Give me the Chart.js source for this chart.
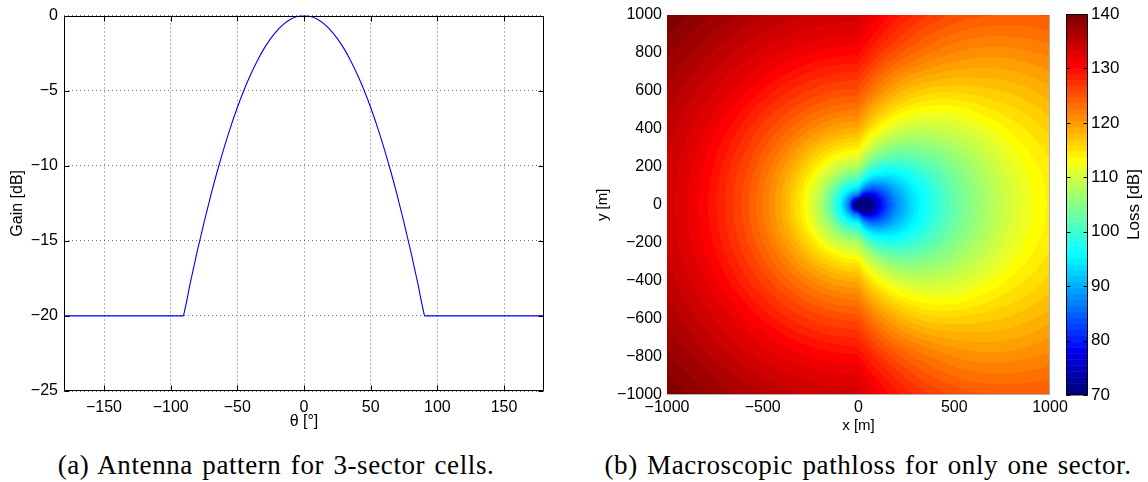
<!DOCTYPE html>
<html>
<head>
<meta charset="utf-8">
<script src="https://cdn.jsdelivr.net/npm/chart.js@4.4.0/dist/chart.umd.min.js"></script>
<style>
  html, body { margin: 0; padding: 0; background: #fff; }
  #page { position: relative; width: 1148px; height: 482px; overflow: hidden; }
  canvas { position: absolute; top: 0; }
  #patternChart { left: 0; }
  #lossChart { left: 580px; }
  #colorbar { left: 1040px; }
  .caption {
    position: absolute; top: 452px; line-height: 26px;
    font-family: 'Liberation Serif', 'Times New Roman', serif; font-size: 27px;
    letter-spacing: 0.6px; word-spacing: 2px;
    white-space: nowrap; transform: translateX(-50%); color: #000;
  }
</style>
</head>
<body>
<div id="page">
  <canvas id="patternChart" width="560" height="440"></canvas>
  <canvas id="lossChart" width="495" height="440"></canvas>
  <canvas id="colorbar" width="108" height="440"></canvas>
  <div class="caption" style="left:276px">(a) Antenna pattern for 3-sector cells.</div>
  <div class="caption" style="left:868px">(b) Macroscopic pathloss for only one sector.</div>
</div>
<script>
// antenna gain vs. azimuth (3-sector pattern)
const thetaDeg = [-180, -90.5, -90, -85, -80, -75, -70, -65, -60, -55, -50, -45, -40, -35, -30, -25, -20, -15, -10, -5,
  0, 5, 10, 15, 20, 25, 30, 35, 40, 45, 50, 55, 60, 65, 70, 75, 80, 85, 90, 90.5, 180];
const gainDb = [-20, -20, -19.84, -17.69, -15.67, -13.78, -12.0, -10.35, -8.82, -7.41, -6.12, -4.96, -3.92, -3.0, -2.2, -1.53, -0.98, -0.55, -0.24, -0.06,
  0, -0.06, -0.24, -0.55, -0.98, -1.53, -2.2, -3.0, -3.92, -4.96, -6.12, -7.41, -8.82, -10.35, -12.0, -13.78, -15.67, -17.69, -19.84, -20, -20];

// pathloss along the boresight direction
const boresightDist = [0, 10, 25, 50, 75, 100, 150, 200, 300, 400, 500, 600, 700, 800, 900, 1000, 1200, 1415];
const boresightLoss = [38, 40, 54, 66, 72, 76.5, 83, 88, 94.5, 99, 102.5, 105.5, 108, 110.5, 112.5, 114, 117, 120];

const thetaTicks = [-150, -100, -50, 0, 50, 100, 150];
const gainTicks = [-25, -20, -15, -10, -5, 0];
const xTicks = [-1000, -500, 0, 500, 1000];
const yTicks = [-1000, -800, -600, -400, -200, 0, 200, 400, 600, 800, 1000];
const lossTicks = [70, 80, 90, 100, 110, 120, 130, 140];

const sans = "'Liberation Sans', Arial, Helvetica, sans-serif";
const minusSign = v => String(v).replace('-', '\u2212');

function interp(xs, ys, v) {
  if (v <= xs[0]) return ys[0];
  for (let i = 1; i < xs.length; i++) {
    if (v <= xs[i]) {
      const f = (v - xs[i - 1]) / (xs[i] - xs[i - 1]);
      return ys[i - 1] + f * (ys[i] - ys[i - 1]);
    }
  }
  return ys[ys.length - 1];
}

// MATLAB style jet(64)
const jet64 = (() => {
  const u = j => (j <= 16 ? j / 16 : j <= 31 ? 1 : j <= 47 ? (48 - j) / 16 : 0);
  const out = [];
  for (let k = 1; k <= 64; k++) {
    const r = k >= 25 ? u(k - 24) : 0;
    const g = k >= 9 && k <= 55 ? u(k - 8) : 0;
    const b = k <= 39 ? u(k + 7) : 0;
    out.push([Math.round(r * 255), Math.round(g * 255), Math.round(b * 255)]);
  }
  return out;
})();

const lossMin = lossTicks[0], lossMax = lossTicks[lossTicks.length - 1];
function jetColor(v) {
  let k = Math.floor((v - lossMin) / (lossMax - lossMin) * 64);
  k = Math.max(0, Math.min(63, k));
  return jet64[k];
}

function lossAt(x, y) {
  const d = Math.hypot(x, y);
  const th = Math.atan2(y, x) * 180 / Math.PI;
  return interp(boresightDist, boresightLoss, d) - interp(thetaDeg, gainDb, th);
}

// box with inward tick marks
const framePlugin = {
  id: 'frame',
  afterDraw(chart, args, opts) {
    const { ctx, chartArea: a, scales } = chart;
    ctx.save();
    ctx.strokeStyle = opts.color || '#000';
    ctx.lineWidth = 1;
    const L = Math.round(a.left) + 0.5, R = Math.round(a.right) - 0.5;
    const T = Math.round(a.top) + 0.5, B = Math.round(a.bottom) - 0.5;
    ctx.beginPath();
    if (opts.sides === 'rb') {
      ctx.moveTo(R, T - 0.5); ctx.lineTo(R, B); ctx.lineTo(L - 0.5, B);
    } else {
      ctx.rect(L, T, R - L, B - T);
    }
    ctx.stroke();
    const len = opts.tickLen || 0;
    if (len) {
      ctx.beginPath();
      if (scales.x && scales.x.options.display) {
        scales.x.ticks.forEach(t => {
          const px = Math.round(scales.x.getPixelForValue(t.value)) + 0.5;
          ctx.moveTo(px, B); ctx.lineTo(px, B - len);
          ctx.moveTo(px, T); ctx.lineTo(px, T + len);
        });
      }
      scales.y.ticks.forEach(t => {
        const py = Math.round(scales.y.getPixelForValue(t.value)) + 0.5;
        ctx.moveTo(L, py); ctx.lineTo(L + len, py);
        ctx.moveTo(R, py); ctx.lineTo(R - len, py);
      });
      ctx.stroke();
    }
    ctx.restore();
  }
};

// ---- (a) antenna pattern ----
new Chart(document.getElementById('patternChart'), {
  type: 'line',
  data: {
    datasets: [{
      data: thetaDeg.map((t, i) => ({ x: t, y: gainDb[i] })),
      borderColor: '#0000ff',
      borderWidth: 1.1,
      pointRadius: 0,
      cubicInterpolationMode: 'monotone',
      fill: false
    }]
  },
  plugins: [framePlugin],
  options: {
    responsive: false,
    animation: false,
    devicePixelRatio: 1,
    layout: { padding: { left: 0, right: 16, top: 13, bottom: 0 } },
    plugins: {
      legend: { display: false },
      tooltip: { enabled: false },
      frame: { tickLen: 5 }
    },
    scales: {
      x: {
        type: 'linear', min: -180, max: 180,
        afterBuildTicks: s => { s.ticks = thetaTicks.map(v => ({ value: v })); },
        afterFit: s => { s.height = 49; },
        grid: { color: 'rgba(0,0,0,0.55)', lineWidth: 1, drawTicks: false },
        border: { display: false, dash: [1, 3] },
        ticks: { font: { family: sans, size: 16 }, color: '#000', padding: 7, maxRotation: 0, callback: minusSign },
        title: { display: true, text: 'θ [°]', font: { family: sans, size: 16 }, color: '#000', padding: { top: 0, bottom: 9 } }
      },
      y: {
        type: 'linear', min: -25, max: 0,
        afterBuildTicks: s => { s.ticks = gainTicks.map(v => ({ value: v })); },
        afterFit: s => { s.width = 64; },
        grid: { color: 'rgba(0,0,0,0.55)', lineWidth: 1, drawTicks: false },
        border: { display: false, dash: [1, 3] },
        ticks: { font: { family: sans, size: 16 }, color: '#000', padding: 6, callback: minusSign },
        title: { display: true, text: 'Gain [dB]', font: { family: sans, size: 16 }, color: '#000', padding: { top: 8, bottom: 0 } }
      }
    }
  }
});

// ---- (b) pathloss map ----
const lossField = {
  id: 'lossField',
  beforeDatasetsDraw(chart) {
    const { ctx, chartArea: a, scales: { x, y } } = chart;
    const left = Math.round(a.left), top = Math.round(a.top);
    const w = Math.round(a.right) - left, h = Math.round(a.bottom) - top;
    const img = ctx.createImageData(w, h);
    for (let j = 0; j < h; j++) {
      const yv = y.getValueForPixel(top + j + 0.5);
      for (let i = 0; i < w; i++) {
        const xv = x.getValueForPixel(left + i + 0.5);
        const c = jetColor(lossAt(xv, yv));
        const k = (j * w + i) * 4;
        img.data[k] = c[0]; img.data[k + 1] = c[1]; img.data[k + 2] = c[2]; img.data[k + 3] = 255;
      }
    }
    ctx.putImageData(img, left, top);
  }
};

new Chart(document.getElementById('lossChart'), {
  type: 'scatter',
  data: { datasets: [{ data: [], pointRadius: 0 }] },
  plugins: [lossField, framePlugin],
  options: {
    responsive: false,
    animation: false,
    devicePixelRatio: 1,
    layout: { padding: { left: 0, right: 25, top: 14, bottom: 0 } },
    plugins: {
      legend: { display: false },
      tooltip: { enabled: false },
      frame: { sides: 'rb', color: '#b0b0b0' }
    },
    scales: {
      x: {
        type: 'linear', min: -1000, max: 1000,
        afterBuildTicks: s => { s.ticks = xTicks.map(v => ({ value: v })); },
        afterFit: s => { s.height = 45; },
        grid: { display: false, drawTicks: false },
        border: { display: false },
        ticks: { font: { family: sans, size: 16 }, color: '#000', padding: 3, maxRotation: 0, autoSkip: false, callback: minusSign },
        title: { display: true, text: 'x [m]', font: { family: sans, size: 15 }, color: '#000', padding: { top: 0, bottom: 5 } }
      },
      y: {
        type: 'linear', min: -1000, max: 1000,
        afterBuildTicks: s => { s.ticks = yTicks.map(v => ({ value: v })); },
        afterFit: s => { s.width = 87; },
        grid: { display: false, drawTicks: false },
        border: { display: false },
        ticks: { font: { family: sans, size: 16 }, color: '#000', padding: 5, autoSkip: false, callback: minusSign },
        title: { display: true, text: 'y [m]', font: { family: sans, size: 15 }, color: '#000', padding: { top: 14, bottom: 0 } }
      }
    }
  }
});

// ---- colorbar ----
const colorbarFill = {
  id: 'colorbarFill',
  beforeDatasetsDraw(chart) {
    const { ctx, chartArea: a, scales: { y } } = chart;
    const step = (lossMax - lossMin) / 64;
    for (let k = 0; k < 64; k++) {
      const y0 = y.getPixelForValue(lossMin + (k + 1) * step);
      const y1 = y.getPixelForValue(lossMin + k * step);
      const c = jet64[k];
      ctx.fillStyle = `rgb(${c[0]},${c[1]},${c[2]})`;
      ctx.fillRect(a.left, y0, a.right - a.left, y1 - y0 + 0.5);
    }
  },
  afterDraw(chart) {
    const { ctx, chartArea: a } = chart;
    ctx.save();
    ctx.fillStyle = '#000';
    ctx.font = `17px ${sans}`;
    ctx.textAlign = 'center';
    ctx.textBaseline = 'middle';
    ctx.translate(94, (a.top + a.bottom) / 2);
    ctx.rotate(-Math.PI / 2);
    ctx.fillText('Loss [dB]', 0, 0);
    ctx.restore();
  }
};

new Chart(document.getElementById('colorbar'), {
  type: 'scatter',
  data: { datasets: [{ data: [], pointRadius: 0 }] },
  plugins: [colorbarFill, framePlugin],
  options: {
    responsive: false,
    animation: false,
    devicePixelRatio: 1,
    layout: { padding: { left: 26, right: 0, top: 14, bottom: 45 } },
    plugins: {
      legend: { display: false },
      tooltip: { enabled: false },
      frame: { tickLen: 4 }
    },
    scales: {
      x: { type: 'linear', display: false, min: 0, max: 1 },
      y: {
        type: 'linear', position: 'right', min: lossMin, max: lossMax,
        afterBuildTicks: s => { s.ticks = lossTicks.map(v => ({ value: v })); },
        afterFit: s => { s.width = 60; },
        grid: { display: false, drawTicks: false },
        border: { display: false },
        ticks: { font: { family: sans, size: 17 }, color: '#000', padding: 3 }
      }
    }
  }
});
</script>
</body>
</html>
